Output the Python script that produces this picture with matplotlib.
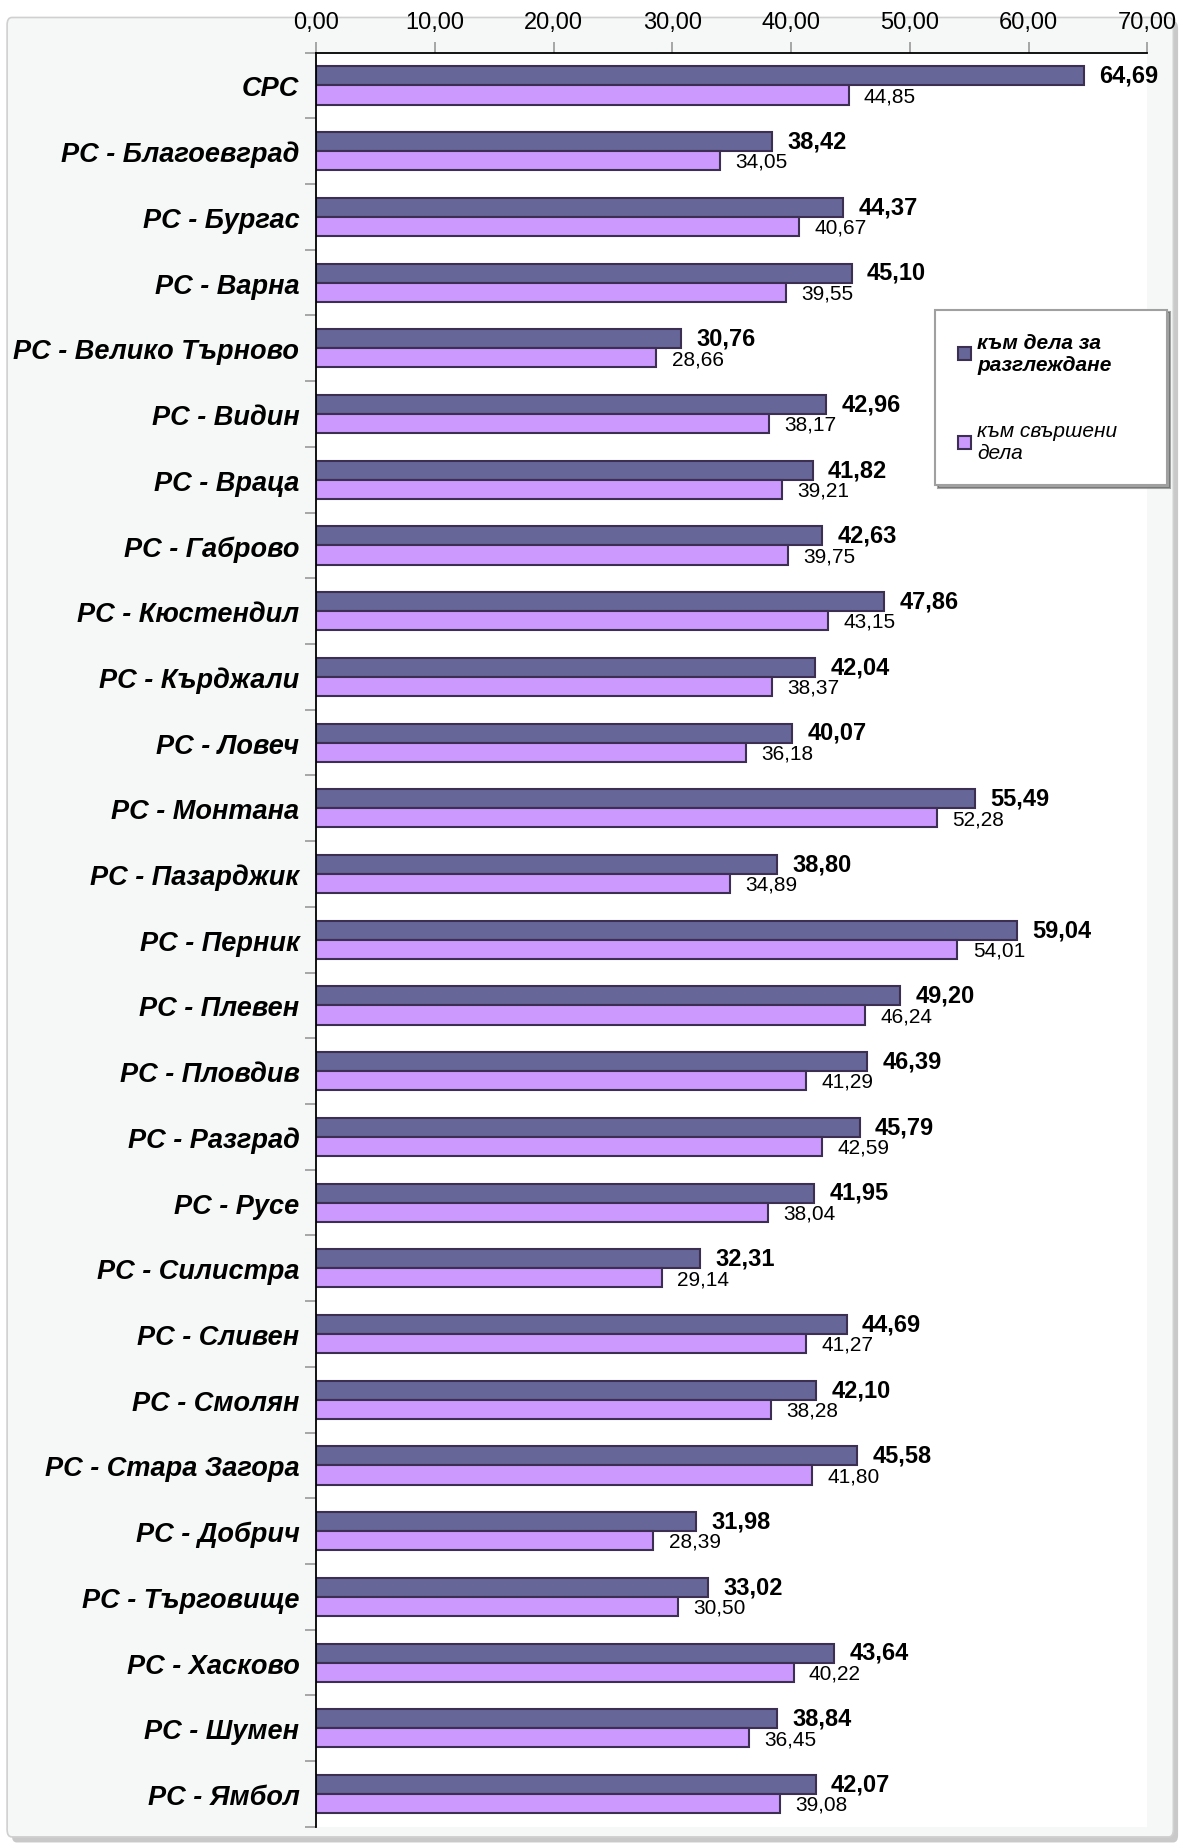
import matplotlib
matplotlib.use("Agg")
import matplotlib.pyplot as plt
import numpy as np
from matplotlib.patches import FancyBboxPatch

# Данни
sadilishta = [
    "СРС", "РС - Благоевград", "РС - Бургас", "РС - Варна",
    "РС - Велико Търново", "РС - Видин", "РС - Враца", "РС - Габрово",
    "РС - Кюстендил", "РС - Кърджали", "РС - Ловеч", "РС - Монтана",
    "РС - Пазарджик", "РС - Перник", "РС - Плевен", "РС - Пловдив",
    "РС - Разград", "РС - Русе", "РС - Силистра", "РС - Сливен",
    "РС - Смолян", "РС - Стара Загора", "РС - Добрич", "РС - Търговище",
    "РС - Хасково", "РС - Шумен", "РС - Ямбол",
]
za_razglezhdane = [
    64.69, 38.42, 44.37, 45.10, 30.76, 42.96, 41.82, 42.63, 47.86, 42.04,
    40.07, 55.49, 38.80, 59.04, 49.20, 46.39, 45.79, 41.95, 32.31, 44.69,
    42.10, 45.58, 31.98, 33.02, 43.64, 38.84, 42.07,
]
svarsheni = [
    44.85, 34.05, 40.67, 39.55, 28.66, 38.17, 39.21, 39.75, 43.15, 38.37,
    36.18, 52.28, 34.89, 54.01, 46.24, 41.29, 42.59, 38.04, 29.14, 41.27,
    38.28, 41.80, 28.39, 30.50, 40.22, 36.45, 39.08,
]
x_ticks = [0, 10, 20, 30, 40, 50, 60, 70]
legenda = ["към дела за\nразглеждане", "към свършени\nдела"]

TAMNO = "#666699"
SVETLO = "#CC99FF"
KANT = "#3d2f52"
SHRIFT = ["Liberation Sans", "DejaVu Sans"]

plt.rcParams["font.family"] = SHRIFT


def fmt(v: float) -> str:
    return f"{v:.2f}".replace(".", ",")


fig = plt.figure(figsize=(11.84, 18.49), dpi=100, facecolor="white")

# рамка на диаграмата
sjanka = FancyBboxPatch((0.010, 0.003), 0.985, 0.985,
                        boxstyle="round,pad=0,rounding_size=0.004",
                        transform=fig.transFigure, facecolor="#c9c9c9",
                        edgecolor="none", zorder=-3)
ramka = FancyBboxPatch((0.006, 0.006), 0.985, 0.984,
                       boxstyle="round,pad=0,rounding_size=0.004",
                       transform=fig.transFigure, facecolor="#f6f8f8",
                       edgecolor="#d0d0d0", lw=1.2, zorder=-2)
fig.patches.extend([sjanka, ramka])

ax = fig.add_axes([0.267, 0.0114, 0.702, 0.9596])
ax.set_facecolor("white")

n = len(sadilishta)
y = np.arange(n)
h = 0.29

b1 = ax.barh(y - h / 2, za_razglezhdane, height=h, color=TAMNO,
             edgecolor=KANT, lw=1.5, label=legenda[0])
b2 = ax.barh(y + h / 2, svarsheni, height=h, color=SVETLO,
             edgecolor=KANT, lw=1.5, label=legenda[1])

for yi, v in zip(y, za_razglezhdane):
    ax.annotate(fmt(v), (v, yi - h / 2 - 0.01), xytext=(11, 0),
                textcoords="offset points", va="center", ha="left",
                fontsize=17, fontweight="bold", color="black")
for yi, v in zip(y, svarsheni):
    ax.annotate(fmt(v), (v, yi + h / 2 + 0.01), xytext=(11, 0),
                textcoords="offset points", va="center", ha="left",
                fontsize=15, color="black")

ax.set_xlim(0, 70)
ax.set_ylim(n - 0.5, -0.5)
ax.xaxis.tick_top()
ax.set_xticks(x_ticks)
ax.set_xticklabels([fmt(t) for t in x_ticks], fontsize=17)
ax.tick_params(axis="x", direction="out", length=8, color="#999999",
               width=1.2, pad=6)

ax.set_yticks(y)
ax.set_yticklabels(sadilishta, fontsize=19.5, fontweight="bold",
                   fontstyle="italic")
ax.tick_params(axis="y", length=0, pad=12)
ax.set_yticks(np.arange(n + 1) - 0.5, minor=True)
ax.tick_params(axis="y", which="minor", direction="out", length=8,
               color="#999999", width=1.2)

for s in ["right", "bottom"]:
    ax.spines[s].set_visible(False)
ax.spines["left"].set_color("black")
ax.spines["top"].set_color("black")
ax.spines["left"].set_linewidth(1.3)
ax.spines["top"].set_linewidth(1.3)

leg = fig.legend(handles=[b1, b2], loc="upper left",
                 bbox_to_anchor=(0.79, 0.832, 0.196, 0.0), mode="expand",
                 frameon=True, fancybox=False, shadow=True,
                 edgecolor="#a0a0a0", facecolor="white",
                 prop={"size": 15, "style": "italic"},
                 handlelength=0.6, handleheight=0.6, handletextpad=0.3,
                 labelspacing=2.3, borderpad=1.1, borderaxespad=0)
leg.get_texts()[0].set_fontweight("bold")
leg.get_frame().set_linewidth(1.5)

fig.savefig("out.png", dpi=100, facecolor=fig.get_facecolor())
